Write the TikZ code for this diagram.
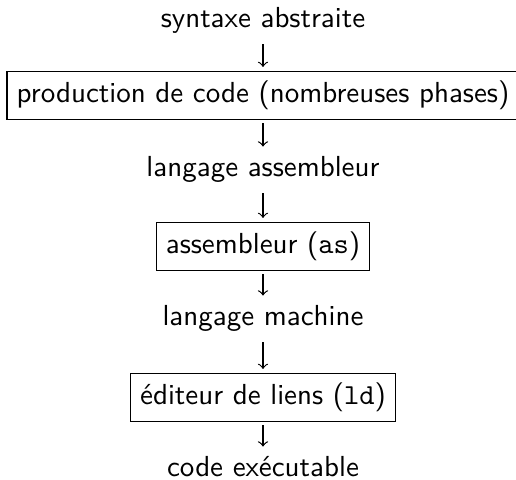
\documentclass[tikz,border=0pt]{standalone}
\usepackage{fontspec}
\renewcommand{\familydefault}{\sfdefault}
\tikzset{
  phase/.style={draw, inner sep=3.33pt},
  lang/.style={anchor=base},
  tobox/.style={->, shorten >=1.3pt},
  frombox/.style={->, shorten <=1pt}
}
\begin{document}
\begin{tikzpicture}[x=0.345pt, y=-0.345pt]
  \useasboundingbox (0, 0) rectangle (516, 480);
  \node[lang] (syntax) at (263, 28) {syntaxe abstraite};
  \node[phase] (codegen) at (263, 95.5) {production de code (nombreuses phases)};
  \node[lang] (asmlang) at (263, 177) {langage assembleur};
  \node[phase] (assembler) at (263, 246.5) {assembleur (\texttt{as})};
  \node[lang] (machlang) at (263, 326) {langage machine};
  \node[phase] (linker) at (263, 397.5) {éditeur de liens (\texttt{ld})};
  \node[lang] (exec) at (263, 477) {code exécutable};
  \draw[tobox] (syntax) -- (codegen);
  \draw[frombox] (codegen) -- (asmlang);
  \draw[tobox] (asmlang) -- (assembler);
  \draw[frombox] (assembler) -- (machlang);
  \draw[tobox] (machlang) -- (linker);
  \draw[frombox] (linker) -- (exec);
\end{tikzpicture}
\end{document}
